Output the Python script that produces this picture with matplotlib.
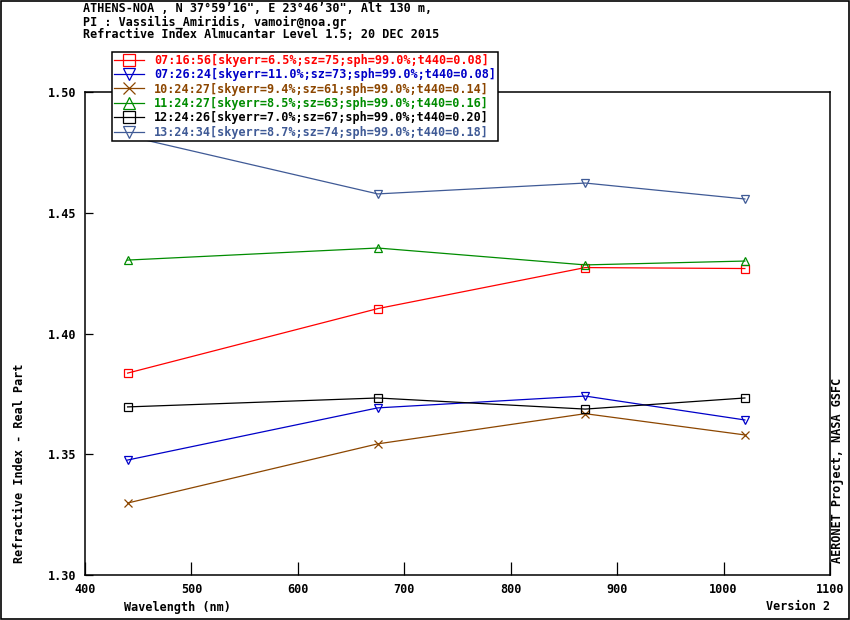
import numpy as np
import matplotlib
matplotlib.use('Agg')
import matplotlib.pyplot as plt
from matplotlib.lines import Line2D
from matplotlib.patches import Rectangle

plt.rcParams['font.family'] = 'DejaVu Sans Mono'
plt.rcParams['font.weight'] = 'bold'
plt.rcParams['font.size'] = 8.5

# wavelengths (nm)
wavelengths = [440, 675, 870, 1020]

# refractive index (real part), one list per retrieval
labels = [
    '07:16:56[skyerr=6.5%;sz=75;sph=99.0%;t440=0.08]',
    '07:26:24[skyerr=11.0%;sz=73;sph=99.0%;t440=0.08]',
    '10:24:27[skyerr=9.4%;sz=61;sph=99.0%;t440=0.14]',
    '11:24:27[skyerr=8.5%;sz=63;sph=99.0%;t440=0.16]',
    '12:24:26[skyerr=7.0%;sz=67;sph=99.0%;t440=0.20]',
    '13:24:34[skyerr=8.7%;sz=74;sph=99.0%;t440=0.18]',
]
ri_0716 = [1.3836, 1.4103, 1.4273, 1.4269]
ri_0726 = [1.3476, 1.3692, 1.3741, 1.3642]
ri_1024 = [1.3298, 1.3543, 1.3668, 1.3580]
ri_1124 = [1.4304, 1.4354, 1.4284, 1.4300]
ri_1224 = [1.3696, 1.3733, 1.3687, 1.3733]
ri_1324 = [1.4818, 1.4578, 1.4623, 1.4557]
series = [ri_0716, ri_0726, ri_1024, ri_1124, ri_1224, ri_1324]

colors = ['#ff0000', '#0000c8', '#8c4600', '#008c00', '#000000', '#3f5a96']
markers = ['s', 'v', 'x', '^', 's', 'v']

x_ticks = [400, 500, 600, 700, 800, 900, 1000, 1100]
y_ticks = [1.30, 1.35, 1.40, 1.45, 1.50]

W, H = 850, 620
fig = plt.figure(figsize=(8.5, 6.2), dpi=100)
ax = fig.add_axes([85 / W, 1 - 575 / H, 745 / W, 483 / H])

handles = []
for vals, c, m, lab in zip(series, colors, markers, labels):
    ax.plot(wavelengths, vals, color=c, lw=0.9, marker=m, ms=6,
            mfc='none', mec=c, mew=0.9)
    handles.append(Line2D([], [], color=c, lw=0.9, marker=m, ms=8,
                          mfc='none', mec=c, mew=0.9, label=lab))

ax.set_xlim(400, 1100)
ax.set_ylim(1.30, 1.50)
ax.set_xticks(x_ticks)
ax.set_yticks(y_ticks)
ax.set_yticklabels([f'{v:.2f}' for v in y_ticks])
ax.tick_params(axis='x', direction='in', length=9.5, width=0.9, pad=6, top=False)
ax.tick_params(axis='y', direction='in', length=6, width=0.9, pad=6, right=False)
for s in ax.spines.values():
    s.set_linewidth(1.1)

leg = fig.legend(handles=handles, loc='upper left',
                 bbox_to_anchor=(112 / W, 1 - 52 / H),
                 frameon=True, fancybox=False, edgecolor='black',
                 framealpha=1, borderpad=0.15, borderaxespad=0,
                 handlelength=2.6, handletextpad=0.8, labelspacing=0.12,
                 labelcolor='linecolor', fontsize=8.5)
leg.get_frame().set_linewidth(1.1)

fig.text(83 / W, 1 - 9 / H, 'ATHENS-NOA , N 37\u00b059\u201916", E 23\u00b046\u201930", Alt 130 m,',
         ha='left', va='center')
fig.text(83 / W, 1 - 22 / H, 'PI : Vassilis_Amiridis, vamoir@noa.gr',
         ha='left', va='center')
fig.text(83 / W, 1 - 35 / H, 'Refractive Index Almucantar Level 1.5; 20 DEC 2015',
         ha='left', va='center')

fig.text(20 / W, 1 - 563 / H, 'Refractive Index - Real Part', rotation=90,
         ha='center', va='bottom')
fig.text(838 / W, 1 - 563 / H, 'AERONET Project, NASA GSFC', rotation=90,
         ha='center', va='bottom')
fig.text(124 / W, 1 - 607 / H, 'Wavelength (nm)', ha='left', va='center')
fig.text(830 / W, 1 - 607 / H, 'Version 2', ha='right', va='center')

fig.patches.append(Rectangle((0.001, 0.001), 0.998, 0.998, transform=fig.transFigure,
                             fill=False, edgecolor='black', lw=1.2))

fig.savefig('out.png', dpi=100)
